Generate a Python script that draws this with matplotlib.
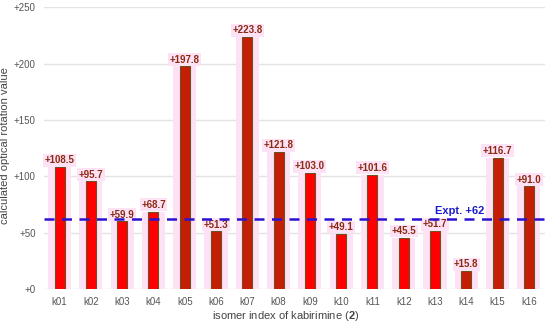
import matplotlib
matplotlib.use("Agg")
import matplotlib.pyplot as plt
import numpy as np

categories = ["k01", "k02", "k03", "k04", "k05", "k06", "k07", "k08",
              "k09", "k10", "k11", "k12", "k13", "k14", "k15", "k16"]
values = [108.5, 95.7, 59.9, 68.7, 197.8, 51.3, 223.8, 121.8,
          103.0, 49.1, 101.6, 45.5, 51.7, 15.8, 116.7, 91.0]
expt_value = 62
yticks = [0, 50, 100, 150, 200, 250]

bright = "#ff0000"
dark = "#c41f05"
bar_colors = [bright, bright, bright, bright, dark, dark, dark, dark,
              bright, bright, bright, bright, bright, dark, dark, dark]

plt.rcParams['font.family'] = ['Liberation Sans', 'DejaVu Sans']
plt.rcParams['mathtext.fontset'] = 'custom'
plt.rcParams['mathtext.rm'] = 'Liberation Sans'
plt.rcParams['mathtext.bf'] = 'Liberation Sans:bold'

fig = plt.figure(figsize=(5.5, 3.25), dpi=100)
ax = fig.add_axes([0.08, 0.111, 0.91, 0.866])

x = np.arange(len(categories))
ax.bar(x, values, width=0.74, color="#fde2f6", zorder=1)
ax.bar(x, values, width=0.32, color=bar_colors, edgecolor="#6e5020",
       linewidth=0.8, zorder=3)

for xi, v in zip(x, values):
    ax.annotate(f"+{v:.1f}", (xi, v), xytext=(0, 1.2), textcoords="offset points",
                ha="center", va="bottom", fontsize=7, fontweight="bold",
                color="#8a2a10", zorder=5,
                bbox=dict(boxstyle="square,pad=0.15", fc="#fde2f6", ec="none"))

ax.axhline(expt_value, color="#2a12d0", linestyle=(0, (4, 3)), linewidth=1.8, zorder=6)
ax.text(12.8, expt_value + 2.5, f"Expt. +{expt_value}", color="#1a1acc",
        fontsize=8, fontweight="bold", ha="center", va="bottom", zorder=7)

ax.set_xlim(-0.5, len(categories) - 0.5)
ax.set_ylim(0, 250)
ax.set_yticks(yticks)
ax.set_yticklabels([f"+{t}" for t in yticks])
ax.set_xticks(x)
ax.set_xticklabels(categories)
ax.grid(axis="y", color="#e4e4e4", linewidth=1.0, zorder=0)
ax.set_axisbelow(True)
for s in ax.spines.values():
    s.set_visible(False)
ax.tick_params(axis="both", length=0, labelsize=7, colors="#555555")
ax.tick_params(axis="y", pad=6)
ax.tick_params(axis="x", pad=6)
ax.set_ylabel("calculated optical rotation value", fontsize=8, color="#444444")
ax.set_xlabel(r"isomer index of kabirimine ($\mathbf{2}$)", fontsize=8, color="#444444")
ax.yaxis.set_label_coords(-0.068, 0.51)
ax.xaxis.set_label_coords(0.482, -0.072)

fig.savefig("out.png", dpi=100)
